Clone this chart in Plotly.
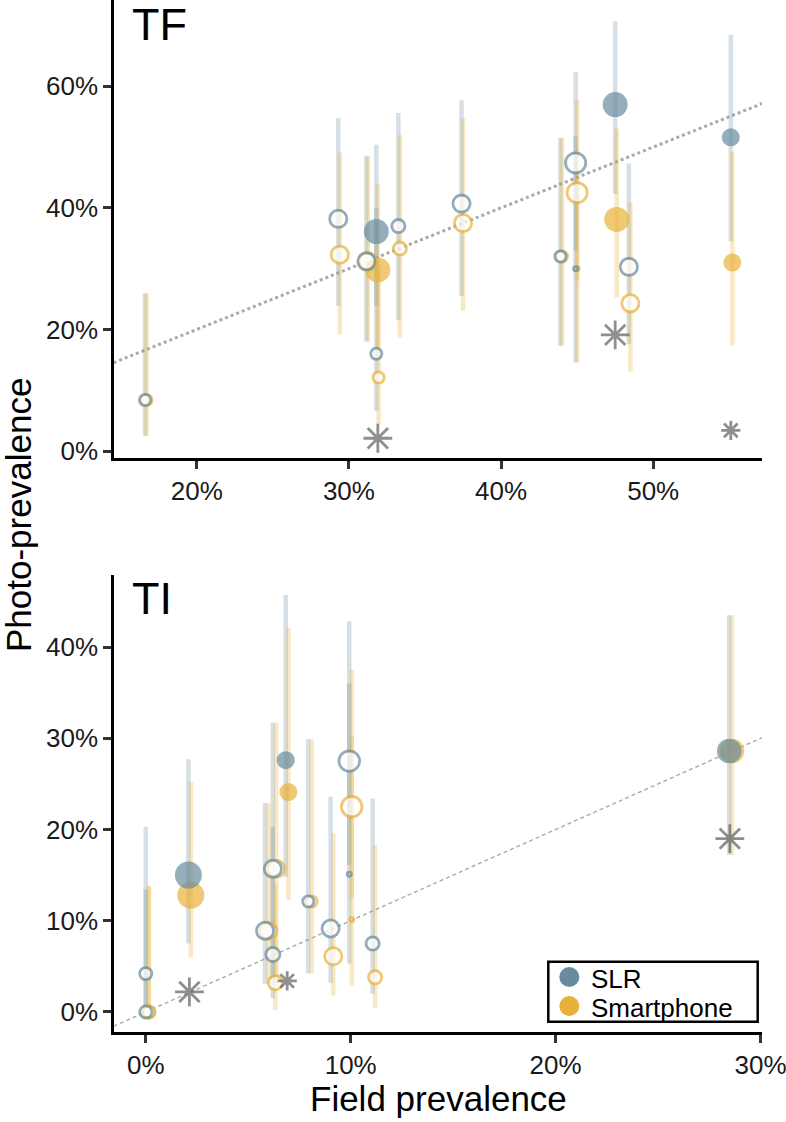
import numpy as np
import plotly.graph_objects as go

# ---------------- data (percent units) ----------------
# TF panel
tf_slr_x  = [16.6, 29.3, 31.15, 31.8, 31.8, 33.25, 37.4, 43.9, 44.9, 44.9, 47.5, 48.4, 55.1]
tf_slr_y  = [8.4, 38.2, 31.2, 36.1, 16.0, 37.0, 40.7, 32.0, 47.4, 30.0, 57.0, 30.3, 51.6]
tf_slr_lo = [2.5, 23.9, 18.0, 23.9, 6.6, 21.5, 25.5, 17.3, 33.0, 14.6, 42.3, 17.6, 34.5]
tf_slr_hi = [25.9, 54.8, 48.5, 50.4, 40.0, 55.6, 57.7, 51.5, 62.4, 51.8, 70.7, 47.3, 68.5]
tf_sp_x   = [16.7, 29.4, 31.25, 31.9, 31.95, 33.35, 37.5, 44.0, 45.0, 45.0, 47.6, 48.5, 55.2]
tf_sp_y   = [8.4, 32.3, 31.2, 29.8, 12.1, 33.3, 37.5, 32.0, 42.5, 30.0, 38.1, 24.3, 31.0]
tf_sp_lo  = [2.5, 19.2, 18.0, 15.0, 4.4, 18.7, 23.1, 17.3, 28.0, 14.6, 25.3, 13.1, 17.3]
tf_sp_hi  = [25.9, 49.1, 48.5, 44.0, 30.0, 52.0, 54.7, 51.5, 57.7, 46.0, 53.0, 40.9, 49.2]
tf_n      = [49, 100, 100, 156, 49, 64, 100, 49, 132, 12, 156, 100, 81]
tf_filled = [False, False, False, True, False, False, False, False, False, False, True, False, True]
tf_star_x = [31.9, 47.5, 55.1]
tf_star_y = [2.1, 19.1, 3.4]
tf_star_big = [True, True, False]

# TI panel
ti_slr_x  = [0.0, 0.0, 2.08, 5.82, 6.2, 6.2, 6.83, 7.93, 9.02, 9.93, 9.93, 11.07, 28.47]
ti_slr_y  = [4.2, 0.0, 15.0, 8.9, 15.7, 6.3, 27.6, 12.1, 9.15, 27.5, 15.1, 7.5, 28.6]
ti_slr_lo = [0.5, 0.0, 7.5, 3.1, 3.5, 1.5, 14.8, 4.2, 3.2, 16.1, 5.3, 2.0, 17.2]
ti_slr_hi = [20.3, 13.4, 27.7, 22.9, 31.7, 20.3, 45.7, 29.9, 23.6, 42.8, 36.0, 23.4, 43.5]
ti_sp_x   = [0.15, 0.15, 2.2, 5.98, 6.36, 6.32, 6.96, 8.09, 9.15, 10.05, 10.05, 11.19, 28.6]
ti_sp_y   = [0.0, 0.0, 12.8, 8.9, 15.7, 3.2, 24.1, 12.1, 6.1, 22.5, 10.1, 3.8, 28.6]
ti_sp_lo  = [0.0, 0.0, 6.0, 3.1, 3.0, 0.2, 12.3, 4.2, 1.8, 12.4, 2.9, 0.4, 17.2]
ti_sp_hi  = [13.8, 13.8, 25.2, 22.9, 31.7, 14.0, 42.1, 29.9, 19.6, 37.5, 30.2, 18.3, 43.5]
ti_n      = [56, 56, 182, 100, 100, 72, 81, 49, 100, 137, 12, 64, 151]
ti_filled = [False, False, True, False, False, False, True, False, False, False, False, False, True]
ti_star_x = [2.13, 6.9, 28.5]
ti_star_y = [2.2, 3.4, 19.0]
ti_star_big = [True, False, True]

identity = [-10, 100]

tf_xticks = [20, 30, 40, 50]
tf_yticks = [0, 20, 40, 60]
ti_xticks = [0, 10, 20, 30]
ti_yticks = [0, 10, 20, 30, 40]

series_names = ["SLR", "Smartphone"]

# ---------------- styles ----------------
SLR_C = "#688ba0"
SP_C = "#e8b23a"
SLR_BAR = "rgba(104,139,160,0.28)"
SP_BAR = "rgba(232,178,58,0.30)"
STAR_C = "#5f5f5f"
FONT = "Liberation Sans, Arial, Helvetica, sans-serif"
OPEN_LW = 2.8

fig = go.Figure()


def diam(n, filled):
    d = 2 * np.sqrt(np.asarray(n, float))
    return np.where(filled, d, d - OPEN_LW)


def add_panel(xa, ya, sx, sy, slo, shi, px, py, plo, phi, n, filled,
              stx, sty, stbig, line_style):
    sx, sy, slo, shi = map(np.asarray, (sx, sy, slo, shi))
    px, py, plo, phi = map(np.asarray, (px, py, plo, phi))
    filled = np.asarray(filled)
    # identity line
    fig.add_trace(go.Scatter(x=identity, y=identity, mode="lines", xaxis=xa, yaxis=ya,
                             line=line_style, showlegend=False, hoverinfo="skip"))
    # CI bars
    for x, y, lo, hi, col in ((sx, sy, slo, shi, SLR_BAR), (px, py, plo, phi, SP_BAR)):
        fig.add_trace(go.Scatter(
            x=x, y=y, mode="markers", xaxis=xa, yaxis=ya,
            marker=dict(size=1, opacity=0), showlegend=False, hoverinfo="skip",
            error_y=dict(type="data", symmetric=False, array=hi - y, arrayminus=y - lo,
                         color=col, thickness=4.5, width=0)))
    # markers: smartphone first, SLR on top
    d = diam(n, filled)
    for x, y, col in ((px, py, SP_C), (sx, sy, SLR_C)):
        op = ~filled
        fig.add_trace(go.Scatter(
            x=x[op], y=y[op], mode="markers", xaxis=xa, yaxis=ya, showlegend=False,
            marker=dict(size=d[op], color="white", line=dict(color=col, width=OPEN_LW))))
        fig.add_trace(go.Scatter(
            x=x[filled], y=y[filled], mode="markers", xaxis=xa, yaxis=ya, showlegend=False,
            marker=dict(size=d[filled], color=col, line=dict(width=0))))
    # asterisks
    stbig = np.asarray(stbig)
    fig.add_trace(go.Scatter(
        x=stx, y=sty, mode="markers", xaxis=xa, yaxis=ya, showlegend=False,
        marker=dict(symbol="asterisk-open", size=np.where(stbig, 24, 16),
                    color=STAR_C, line=dict(color=STAR_C, width=2.8))))


add_panel("x", "y", tf_slr_x, tf_slr_y, tf_slr_lo, tf_slr_hi,
          tf_sp_x, tf_sp_y, tf_sp_lo, tf_sp_hi, tf_n, tf_filled,
          tf_star_x, tf_star_y, tf_star_big,
          dict(color="#aaaaaa", width=3, dash="dot"))
add_panel("x2", "y2", ti_slr_x, ti_slr_y, ti_slr_lo, ti_slr_hi,
          ti_sp_x, ti_sp_y, ti_sp_lo, ti_sp_hi, ti_n, ti_filled,
          ti_star_x, ti_star_y, ti_star_big,
          dict(color="#aaaaaa", width=1.4, dash="4px,3px"))


def axis(ticks, **kw):
    d = dict(showline=True, linecolor="black", linewidth=2.5, ticks="outside",
             ticklen=8, tickwidth=2.5, tickcolor="#333333", showgrid=False,
             zeroline=False, tickmode="array", tickvals=ticks,
             ticktext=[f"{t}%" for t in ticks], ticklabeloverflow="allow",
             tickfont=dict(family=FONT, size=26, color="#1a1a1a"))
    d.update(kw)
    return d


W_PLOT = 648.0
H_PLOT = 1032.0
L_M = 114.0


def px_x(p):
    return (p - L_M) / W_PLOT


def px_y(p):
    return (H_PLOT - p) / H_PLOT


# legend (box, keys, labels) placed in the lower-right corner of the TI panel
legend_shapes = [dict(type="rect", xref="paper", yref="paper",
                      x0=px_x(548.3), x1=px_x(757.7), y0=px_y(1021.7), y1=px_y(961.7),
                      line=dict(color="black", width=2.5), fillcolor="white", layer="above")]
legend_annots = []
for name, col, cy in zip(series_names, (SLR_C, SP_C), (977.0, 1006.0)):
    legend_shapes.append(dict(type="circle", xref="paper", yref="paper",
                              xsizemode="pixel", ysizemode="pixel",
                              xanchor=px_x(569.3), yanchor=px_y(cy),
                              x0=-10, x1=10, y0=-10, y1=10,
                              fillcolor=col, line=dict(width=0), layer="above"))
    legend_annots.append(dict(text=name, xref="paper", yref="paper", x=px_x(590),
                              y=px_y(cy + 1.5), xanchor="left", yanchor="middle",
                              showarrow=False, height=28, borderpad=0,
                              font=dict(family=FONT, size=26, color="black")))

fig.update_layout(
    width=786, height=1122,
    margin=dict(l=114, r=24, t=0, b=90, autoexpand=False),
    paper_bgcolor="white", plot_bgcolor="white",
    font=dict(family=FONT, color="black"),
    xaxis=axis(tf_xticks, domain=[0, 1], anchor="y", range=[14.56, 57.15]),
    yaxis=axis(tf_yticks, domain=[px_y(458), 1], anchor="x", range=[-1.15, 74.2]),
    xaxis2=axis(ti_xticks, domain=[0, 1], anchor="y2", range=[-1.55, 30.07]),
    yaxis2=axis(ti_yticks, domain=[0, px_y(575)], anchor="x2", range=[-2.2, 47.9]),
    showlegend=False,
    shapes=legend_shapes,
    annotations=[
        dict(text="TF", xref="x domain", yref="y domain", x=0.026, y=1 - 24 / 458,
             xanchor="left", yanchor="middle", showarrow=False, height=46, borderpad=0,
             font=dict(family=FONT, size=45, color="black")),
        dict(text="TI", xref="x2 domain", yref="y2 domain", x=0.024, y=1 - 23.5 / 457,
             xanchor="left", yanchor="middle", showarrow=False,
             font=dict(family=FONT, size=45, color="black")),
        dict(text="Field prevalence", xref="paper", yref="paper", x=0.5,
             y=px_y(1098), xanchor="center", yanchor="middle",
             showarrow=False, font=dict(family=FONT, size=35, color="black")),
        dict(text="Photo-prevalence", xref="paper", yref="paper", x=px_x(18),
             y=px_y(515), xanchor="center", yanchor="middle",
             textangle=-90, showarrow=False,
             font=dict(family=FONT, size=35, color="black")),
    ] + legend_annots,
)

fig.write_html("out.html", config={"displayModeBar": False},
               post_script="document.body.style.margin='0px';")
